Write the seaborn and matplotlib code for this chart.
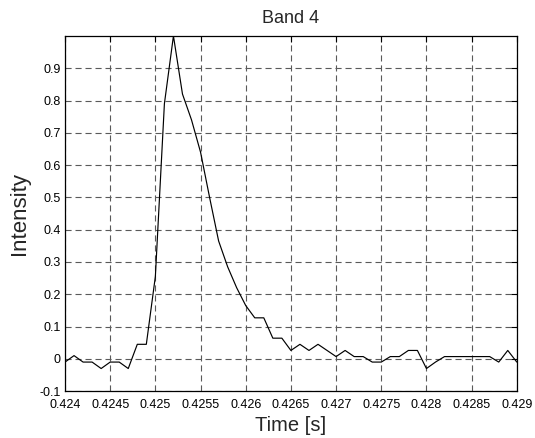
import matplotlib
matplotlib.use("Agg")
import matplotlib.pyplot as plt
import seaborn as sns
import pandas as pd

# ---- data ----
time_s = [0.4240, 0.4241, 0.4242, 0.4243, 0.4244, 0.4245, 0.4246, 0.4247, 0.4248, 0.4249,
          0.4250, 0.4251, 0.4252, 0.4253, 0.4254, 0.4255, 0.4256, 0.4257, 0.4258, 0.4259,
          0.4260, 0.4261, 0.4262, 0.4263, 0.4264, 0.4265, 0.4266, 0.4267, 0.4268, 0.4269,
          0.4270, 0.4271, 0.4272, 0.4273, 0.4274, 0.4275, 0.4276, 0.4277, 0.4278, 0.4279,
          0.4280, 0.4281, 0.4282, 0.4283, 0.4284, 0.4285, 0.4286, 0.4287, 0.4288, 0.4289,
          0.4290]
intensity = [-0.010, 0.010, -0.010, -0.010, -0.030, -0.010, -0.010, -0.030, 0.045, 0.045,
             0.255, 0.790, 1.000, 0.820, 0.740, 0.640, 0.500, 0.365, 0.285, 0.220,
             0.165, 0.127, 0.127, 0.064, 0.064, 0.026, 0.045, 0.026, 0.045, 0.026,
             0.007, 0.026, 0.007, 0.007, -0.010, -0.010, 0.007, 0.007, 0.026, 0.026,
             -0.030, -0.010, 0.007, 0.007, 0.007, 0.007, 0.007, 0.007, -0.010, 0.026,
             -0.010]

x_ticks = [0.424, 0.4245, 0.425, 0.4255, 0.426, 0.4265, 0.427, 0.4275, 0.428, 0.4285, 0.429]
x_tick_labels = ["0.424", "0.4245", "0.425", "0.4255", "0.426", "0.4265", "0.427",
                 "0.4275", "0.428", "0.4285", "0.429"]
y_ticks = [-0.1, 0.0, 0.1, 0.2, 0.3, 0.4, 0.5, 0.6, 0.7, 0.8, 0.9]
y_tick_labels = ["-0.1", "0", "0.1", "0.2", "0.3", "0.4", "0.5", "0.6", "0.7", "0.8", "0.9"]

title = "Band 4"
x_label = "Time [s]"
y_label = "Intensity"

# ---- style ----
sns.set_style("white")
plt.rcParams["font.family"] = ["Liberation Sans", "DejaVu Sans"]

df = pd.DataFrame({"time": time_s, "intensity": intensity})

fig = plt.figure(figsize=(5.35, 4.38), dpi=100)
ax = fig.add_axes([0.1215, 0.107, 0.966 - 0.1215, 0.918 - 0.107])

sns.lineplot(data=df, x="time", y="intensity", ax=ax, color="black", linewidth=0.85)

ax.set_xlim(0.424, 0.429)
ax.set_ylim(-0.1, 1.0)
ax.set_xticks(x_ticks)
ax.set_xticklabels(x_tick_labels)
ax.set_yticks(y_ticks)
ax.set_yticklabels(y_tick_labels)

ax.grid(True, color="#5a5a5a", linestyle=(0, (5.5, 3.5)), linewidth=0.8)
ax.set_axisbelow(True)

for sp in ax.spines.values():
    sp.set_visible(True)
    sp.set_color("black")
    sp.set_linewidth(0.9)

ax.tick_params(direction="in", top=True, right=True, length=4, width=0.8,
               labelsize=9, colors="black")
ax.tick_params(axis="x", pad=6)
ax.tick_params(axis="y", pad=3)

ax.set_title(title, fontsize=13, pad=9)
ax.set_xlabel(x_label, fontsize=14.5, labelpad=3)
ax.set_ylabel(y_label, fontsize=16, labelpad=7)

fig.savefig("out.png", dpi=100, facecolor="white")
